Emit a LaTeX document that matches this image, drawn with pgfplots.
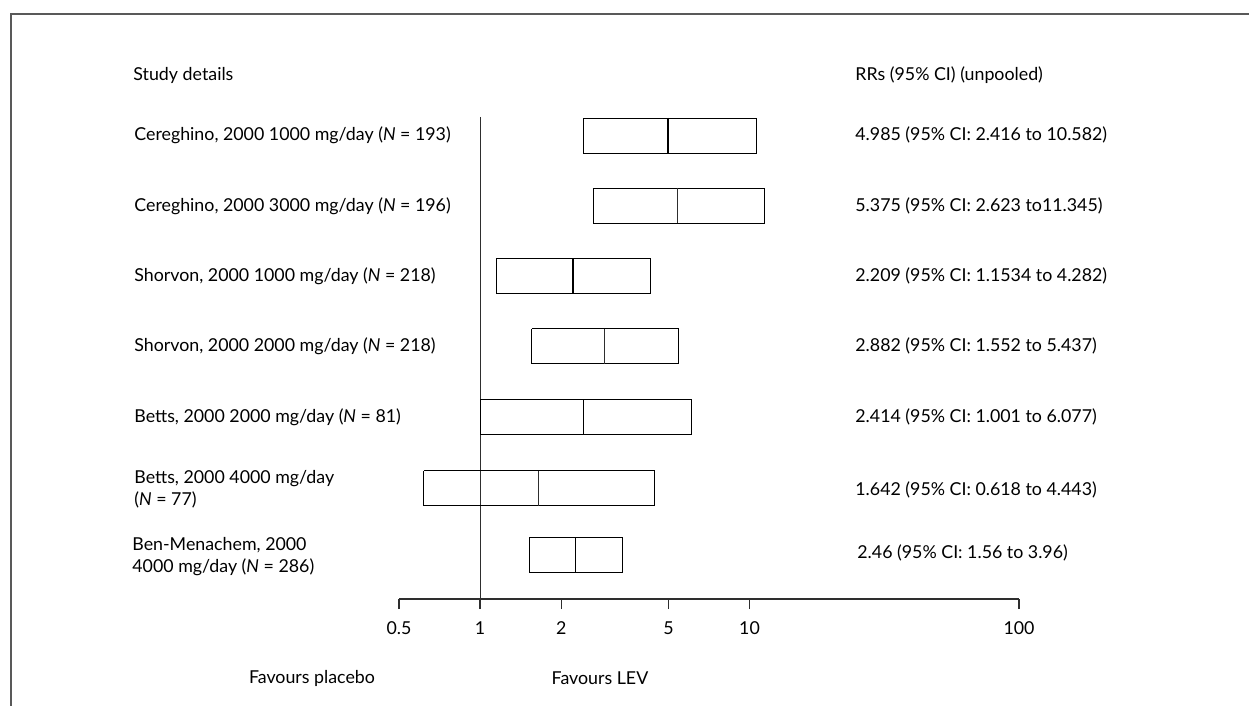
\documentclass[border=0pt]{standalone}
\usepackage{pgfplots}
\pgfplotsset{compat=1.18}
\usepackage{fontspec}
\setmainfont{Lato}
\definecolor{ln}{HTML}{2E2E2E}
\begin{document}
\begin{tikzpicture}[font=\fontsize{8.9pt}{11.25pt}\selectfont]
\path[use as bounding box] (0,0) rectangle (624.5pt,-353pt);
\begin{scope}[x=0.5pt,y=-0.5pt]
\draw[line width=1pt, color=black!65] (11,706) -- (11,14) -- (1249,14);
\node[anchor=west, inner sep=0] at (133,75) {Study details};
\node[anchor=west, inner sep=0] at (855,75) {RRs (95\% CI) (unpooled)};
\node[anchor=west, inner sep=0] at (134,135) {Cereghino, 2000 1000 mg/day (\textit{N} = 193)};
\node[anchor=west, inner sep=0] at (134,206) {Cereghino, 2000 3000 mg/day (\textit{N} = 196)};
\node[anchor=west, inner sep=0] at (134,276) {Shorvon, 2000 1000 mg/day (\textit{N} = 218)};
\node[anchor=west, inner sep=0] at (134,346) {Shorvon, 2000 2000 mg/day (\textit{N} = 218)};
\node[anchor=west, inner sep=0] at (134,417) {Betts, 2000 2000 mg/day (\textit{N} = 81)};
\node[anchor=west, inner sep=0, align=left] at (134,489) {Betts, 2000 4000 mg/day\\(\textit{N} = 77)};
\node[anchor=west, inner sep=0, align=left] at (132,556.5) {Ben-Menachem, 2000\\4000 mg/day (\textit{N} = 286)};
\node[anchor=west, inner sep=0] at (855,135) {4.985 (95\% CI: 2.416 to 10.582)};
\node[anchor=west, inner sep=0] at (855,206) {5.375 (95\% CI: 2.623 to11.345)};
\node[anchor=west, inner sep=0] at (855,276) {2.209 (95\% CI: 1.1534 to 4.282)};
\node[anchor=west, inner sep=0] at (855,346) {2.882 (95\% CI: 1.552 to 5.437)};
\node[anchor=west, inner sep=0] at (855,417) {2.414 (95\% CI: 1.001 to 6.077)};
\node[anchor=west, inner sep=0] at (855,490) {1.642 (95\% CI: 0.618 to 4.443)};
\node[anchor=west, inner sep=0] at (857,553) {2.46 (95\% CI: 1.56 to 3.96)};
\node[inner sep=0] at (312,678) {Favours placebo};
\node[inner sep=0] at (600,678) {Favours LEV};
\end{scope}
\begin{axis}[
  at={(199.5pt,-299.5pt)}, anchor=south west,
  scale only axis, width=310pt, height=241pt,
  xmode=log, xmin=0.5, xmax=100, ymin=-599, ymax=-117,
  axis x line=bottom, axis y line=none,
  axis line style={-, color=ln, line width=0.65pt},
  xtick={0.5,1,2,5,10,100},
  xticklabels={\mbox{0.5},\mbox{1},\mbox{2},\mbox{5},\mbox{10},\mbox{100}},
  xticklabel style={yshift=-3pt},
  minor xtick={}, minor tick num=0,
  tick align=outside, major tick length=5pt,
  xtick style={color=ln, line width=0.65pt},
  ytick=\empty,
  clip=false,
  cycle list={{color=ln, solid, line width=0.65pt, mark=none}},
]
\addplot coordinates {(1,-117) (1,-599)};
% row 1
\addplot coordinates {(2.416,-118) (10.582,-118) (10.582,-153) (2.416,-153) (2.416,-118)};
\addplot coordinates {(4.985,-118) (4.985,-153)};
% row 2
\addplot coordinates {(2.623,-188) (11.345,-188) (11.345,-223) (2.623,-223) (2.623,-188)};
\addplot coordinates {(5.375,-188) (5.375,-223)};
% row 3
\addplot coordinates {(1.1534,-258) (4.282,-258) (4.282,-293) (1.1534,-293) (1.1534,-258)};
\addplot coordinates {(2.209,-258) (2.209,-293)};
% row 4
\addplot coordinates {(1.552,-328.5) (5.437,-328.5) (5.437,-363.5) (1.552,-363.5) (1.552,-328.5)};
\addplot coordinates {(2.882,-328.5) (2.882,-363.5)};
% row 5
\addplot coordinates {(1.001,-399) (6.077,-399) (6.077,-434) (1.001,-434) (1.001,-399)};
\addplot coordinates {(2.414,-399) (2.414,-434)};
% row 6
\addplot coordinates {(0.618,-470.5) (4.443,-470.5) (4.443,-505.5) (0.618,-505.5) (0.618,-470.5)};
\addplot coordinates {(1.642,-470.5) (1.642,-505.5)};
% row 7
\addplot coordinates {(1.52,-537) (3.38,-537) (3.38,-572) (1.52,-572) (1.52,-537)};
\addplot coordinates {(2.26,-537) (2.26,-572)};
\end{axis}
\end{tikzpicture}
\end{document}
